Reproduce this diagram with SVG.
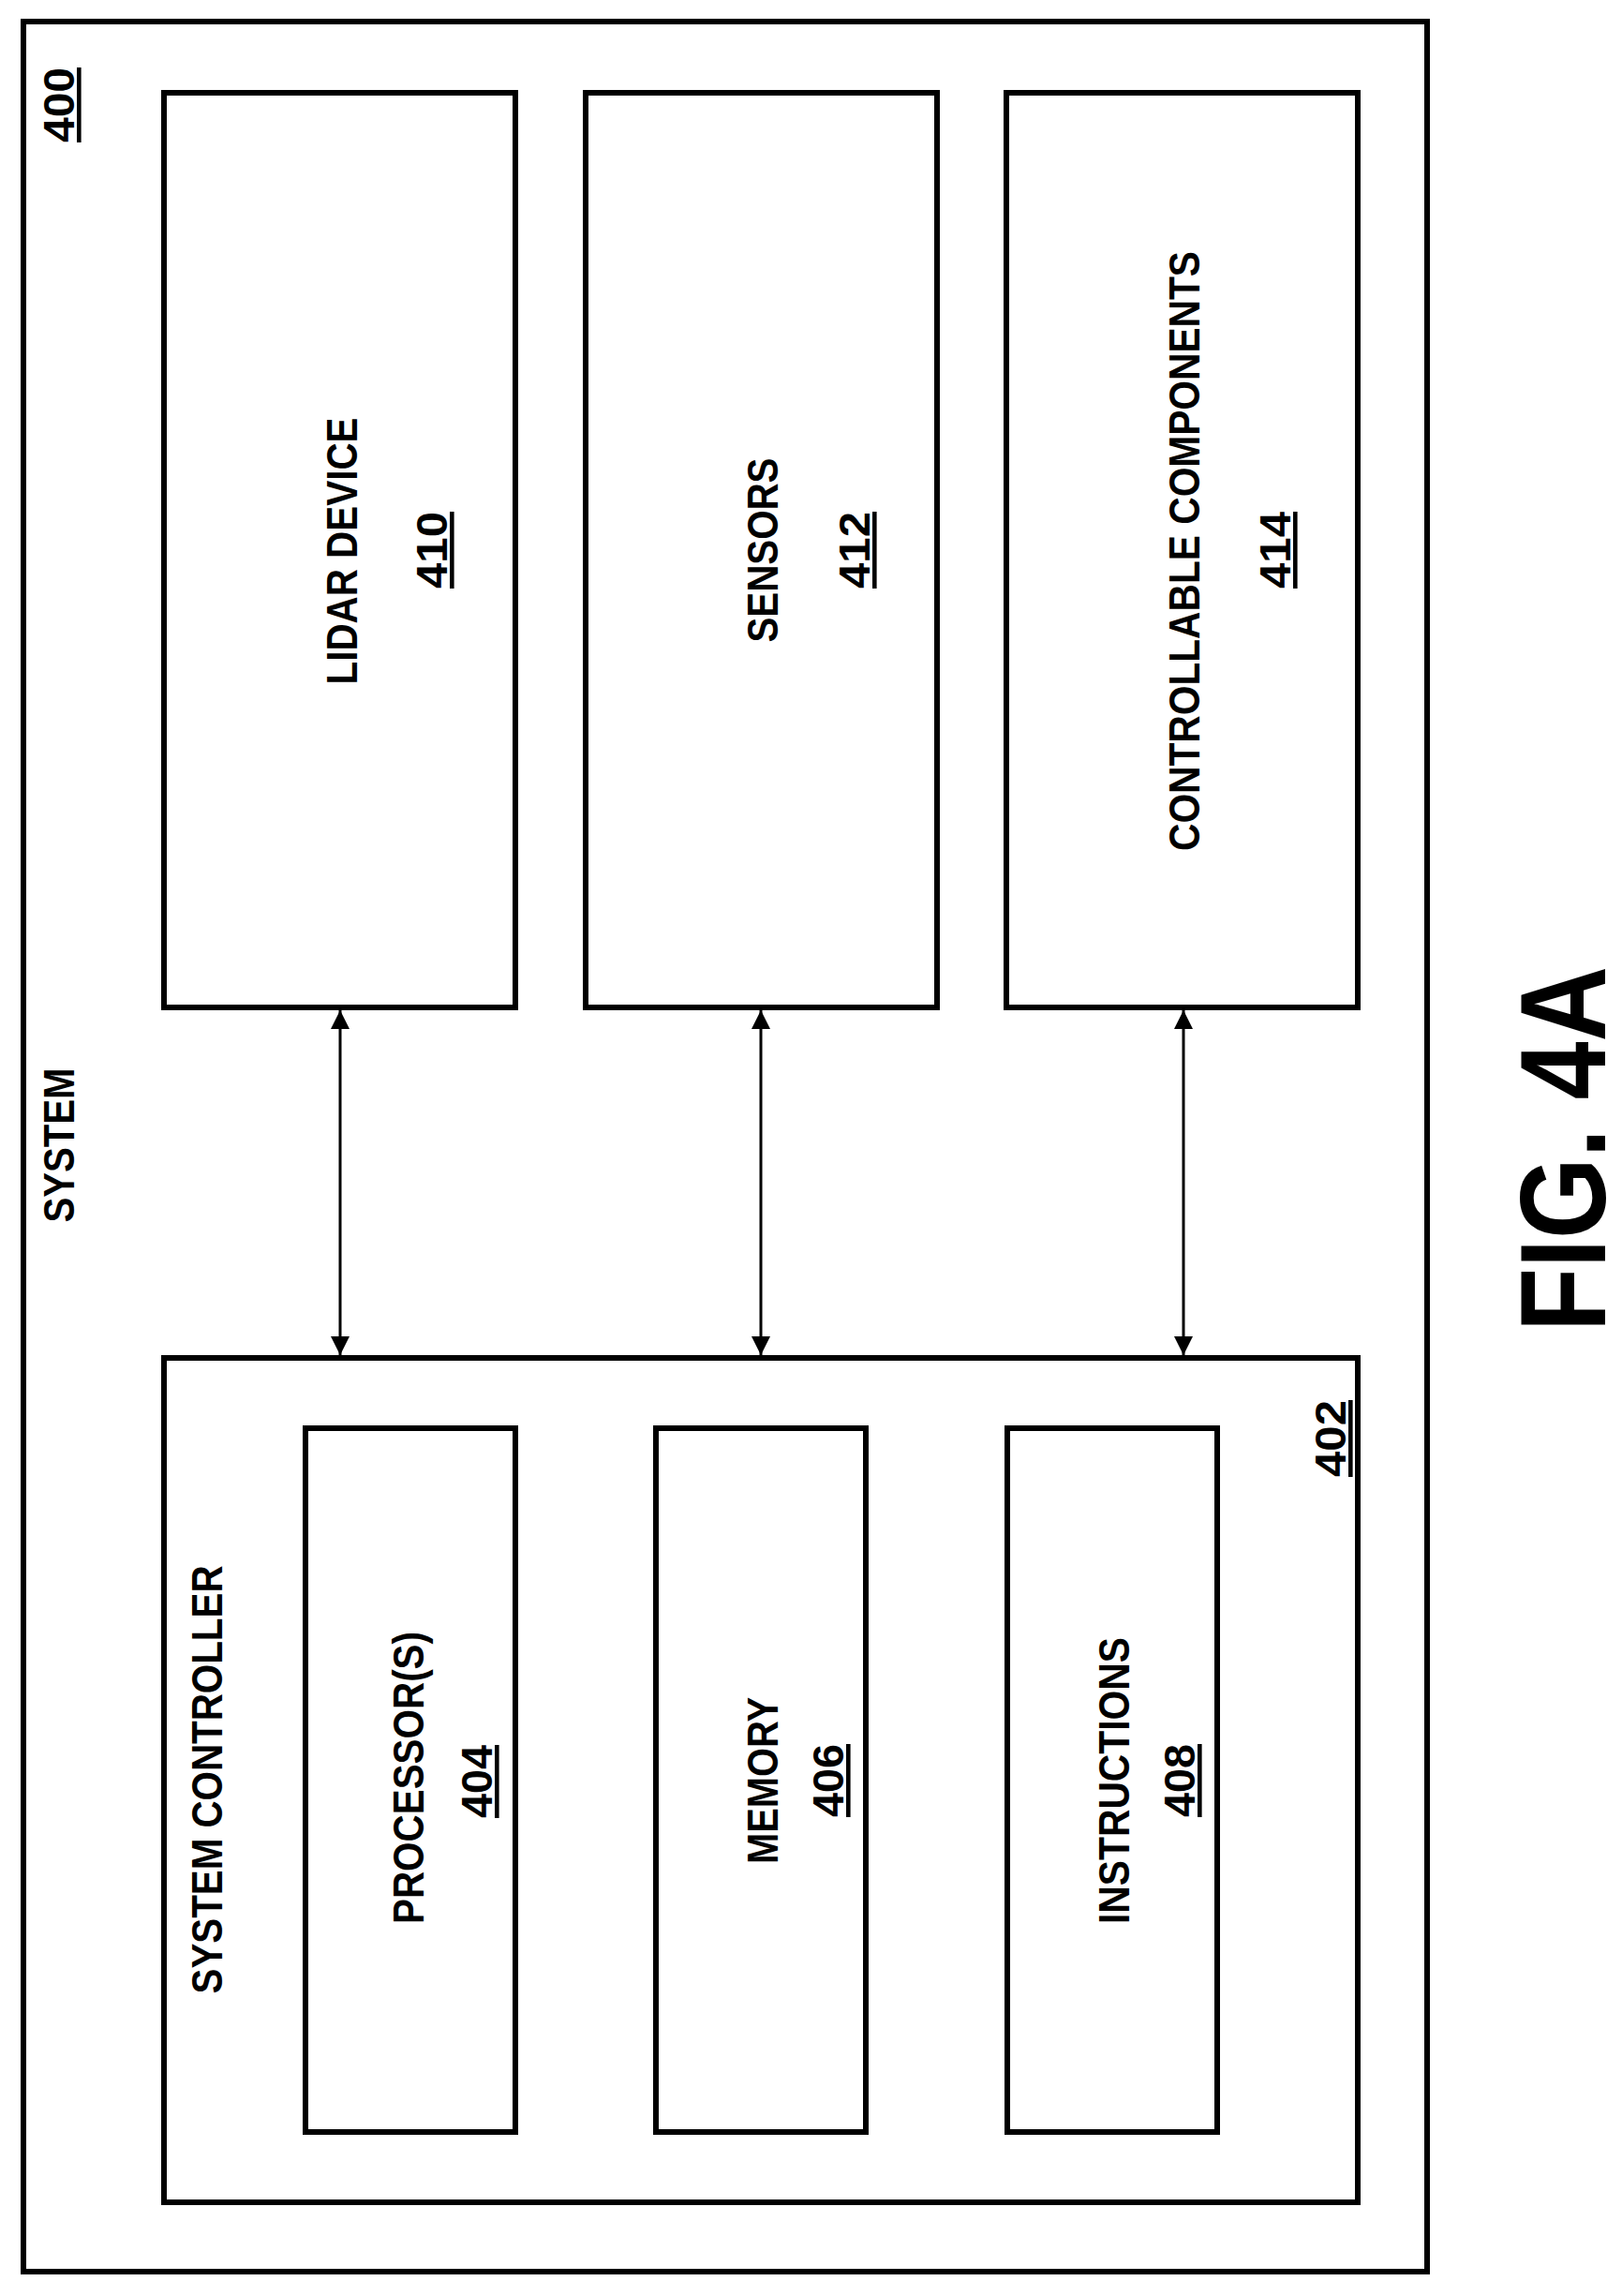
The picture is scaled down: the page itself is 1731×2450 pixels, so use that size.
<svg xmlns="http://www.w3.org/2000/svg" width="1731" height="2450" viewBox="0 0 1731 2450">
<style>
.b{fill:none;stroke:#000;stroke-width:6}
.t{font-family:"Liberation Sans",Arial,sans-serif;font-weight:bold;font-size:46px;fill:#000;text-anchor:middle}
.u{text-decoration:underline}
.c{stroke:#000;stroke-width:3;fill:none;marker-start:url(#a);marker-end:url(#a)}
</style>
<defs>
<marker id="a" viewBox="0 0 20 30" refX="20" refY="15" markerWidth="20" markerHeight="30" markerUnits="userSpaceOnUse" orient="auto-start-reverse"><path d="M0,5 L20,15 L0,25 Z" fill="#000"/></marker></defs>
<g id="system400">
<rect class="b" x="25" y="23" width="1498" height="2401"/>
<text class="t u" transform="translate(79,112) rotate(-90)" textLength="80" lengthAdjust="spacingAndGlyphs">400</text>
<text class="t" transform="translate(79,1222) rotate(-90)" textLength="165" lengthAdjust="spacingAndGlyphs">SYSTEM</text>
</g>
<g id="lidar410">
<rect class="b" x="175" y="99" width="375" height="976"/>
<text class="t" transform="translate(381,588) rotate(-90)" textLength="285" lengthAdjust="spacingAndGlyphs">LIDAR DEVICE</text>
<text class="t u" transform="translate(477,587) rotate(-90)" textLength="82" lengthAdjust="spacingAndGlyphs">410</text>
</g>
<g id="sensors412">
<rect class="b" x="625" y="99" width="375" height="976"/>
<text class="t" transform="translate(830,587) rotate(-90)" textLength="197" lengthAdjust="spacingAndGlyphs">SENSORS</text>
<text class="t u" transform="translate(928,587) rotate(-90)" textLength="82" lengthAdjust="spacingAndGlyphs">412</text>
</g>
<g id="components414">
<rect class="b" x="1074" y="99" width="375" height="976"/>
<text class="t" transform="translate(1280,588) rotate(-90)" textLength="640" lengthAdjust="spacingAndGlyphs">CONTROLLABLE COMPONENTS</text>
<text class="t u" transform="translate(1377,587) rotate(-90)" textLength="82" lengthAdjust="spacingAndGlyphs">414</text>
</g>
<g id="controller402">
<rect class="b" x="175" y="1449" width="1274" height="901"/>
<text class="t" transform="translate(237,1899) rotate(-90)" textLength="457" lengthAdjust="spacingAndGlyphs">SYSTEM CONTROLLER</text>
<text class="t u" transform="translate(1436,1535) rotate(-90)" textLength="82" lengthAdjust="spacingAndGlyphs">402</text>
</g>
<g id="processor404">
<rect class="b" x="326" y="1524" width="224" height="751"/>
<text class="t" transform="translate(452,1897) rotate(-90)" textLength="312" lengthAdjust="spacingAndGlyphs">PROCESSOR(S)</text>
<text class="t u" transform="translate(525,1901) rotate(-90)" textLength="78" lengthAdjust="spacingAndGlyphs">404</text>
</g>
<g id="memory406">
<rect class="b" x="700" y="1524" width="224" height="751"/>
<text class="t" transform="translate(830,1900) rotate(-90)" textLength="178" lengthAdjust="spacingAndGlyphs">MEMORY</text>
<text class="t u" transform="translate(900,1900) rotate(-90)" textLength="78" lengthAdjust="spacingAndGlyphs">406</text>
</g>
<g id="instructions408">
<rect class="b" x="1075" y="1524" width="224" height="751"/>
<text class="t" transform="translate(1205,1900) rotate(-90)" textLength="306" lengthAdjust="spacingAndGlyphs">INSTRUCTIONS</text>
<text class="t u" transform="translate(1275,1900) rotate(-90)" textLength="78" lengthAdjust="spacingAndGlyphs">408</text>
</g>
<g id="connectors">
<line class="c" x1="363" y1="1078" x2="363" y2="1446"/>
<line class="c" x1="812" y1="1078" x2="812" y2="1446"/>
<line class="c" x1="1263" y1="1078" x2="1263" y2="1446"/>
</g>
<text class="t" style="font-size:130px" transform="translate(1713,1226) rotate(-90)" textLength="390" lengthAdjust="spacingAndGlyphs">FIG. 4A</text>
</svg>
